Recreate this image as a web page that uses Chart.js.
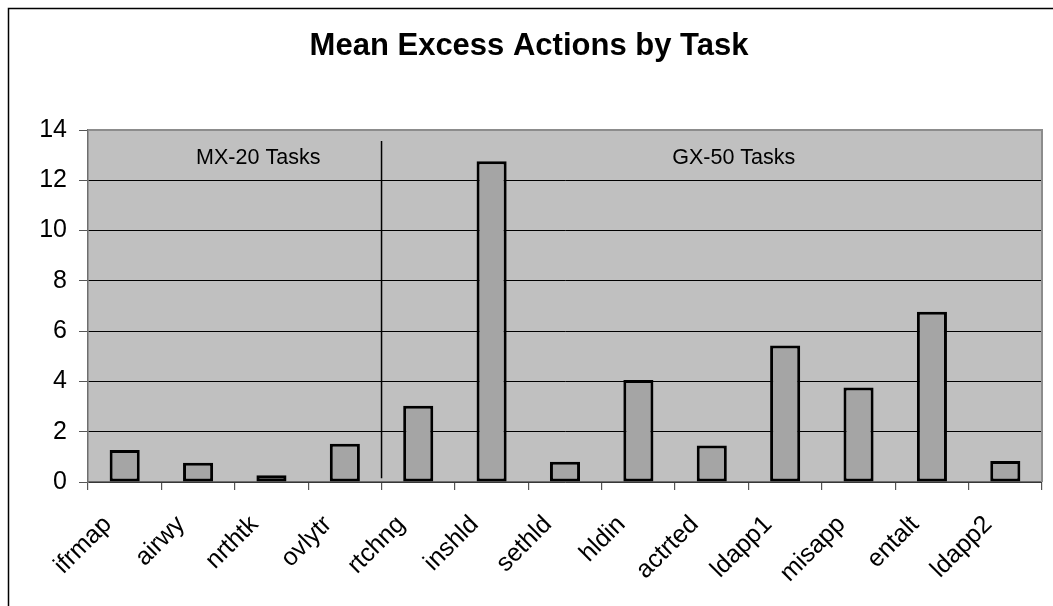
<!DOCTYPE html>
<html>
<head>
<meta charset="utf-8">
<script src="https://cdn.jsdelivr.net/npm/chart.js@4"></script>
<style>
  html, body { margin: 0; padding: 0; background: #ffffff; }
  #c { display: block; }
</style>
</head>
<body>
<canvas id="c" width="1053" height="606"></canvas>
<script>
const titleText = 'Mean Excess Actions by Task';
const categories = ['ifrmap','airwy','nrthtk','ovlytr','rtchng','inshld','sethld','hldin','actrted','ldapp1','misapp','entalt','ldapp2'];
const excessActions = [1.27, 0.77, 0.27, 1.52, 3.03, 12.76, 0.81, 4.06, 1.45, 5.43, 3.76, 6.77, 0.84];
const yTicks = [0, 2, 4, 6, 8, 10, 12, 14];
const groupLabels = ['MX-20 Tasks', 'GX-50 Tasks'];
const groupLabelIndex = [1.82, 8.3];
const groupLabelValue = 12.87;
const dividerIndex = 4;            // divider between ovlytr and rtchng
const dividerRange = [0.15, 13.56]; // vertical extent of the divider in data units

const FONT = '"Liberation Sans", Arial, Helvetica, sans-serif';

const chartDecor = {
  id: 'chartDecor',
  beforeDraw(chart) {
    const { ctx, chartArea: a } = chart;
    ctx.save();
    ctx.fillStyle = '#ffffff';
    ctx.fillRect(0, 0, chart.width, chart.height);
    ctx.fillStyle = '#c0c0c0';
    ctx.fillRect(a.left, a.top, a.right - a.left, a.bottom - a.top);
    ctx.restore();
  },
  afterDatasetsDraw(chart) {
    const { ctx, chartArea: a, scales } = chart;
    const x = scales.x, y = scales.y;
    ctx.save();
    // plot area border (top & right)
    ctx.strokeStyle = '#8c8c8c';
    ctx.lineWidth = 2;
    ctx.beginPath();
    ctx.moveTo(a.left, a.top);
    ctx.lineTo(a.right, a.top);
    ctx.lineTo(a.right, a.bottom);
    ctx.stroke();
    // divider
    const dx = (x.getPixelForValue(dividerIndex - 1) + x.getPixelForValue(dividerIndex)) / 2;
    ctx.strokeStyle = '#000000';
    ctx.lineWidth = 1.5;
    ctx.beginPath();
    ctx.moveTo(dx, y.getPixelForValue(dividerRange[1]));
    ctx.lineTo(dx, y.getPixelForValue(dividerRange[0]));
    ctx.stroke();
    // group labels
    ctx.fillStyle = '#000000';
    ctx.font = '21.5px ' + FONT;
    ctx.textAlign = 'center';
    ctx.textBaseline = 'middle';
    groupLabels.forEach((t, i) => {
      ctx.fillText(t, x.getPixelForValue(groupLabelIndex[i]), y.getPixelForValue(groupLabelValue));
    });
    ctx.restore();
  },
  afterDraw(chart) {
    const { ctx } = chart;
    ctx.save();
    ctx.strokeStyle = '#000000';
    ctx.lineWidth = 1.5;
    ctx.beginPath();
    ctx.moveTo(8.5, chart.height + 2);
    ctx.lineTo(8.5, 8.5);
    ctx.lineTo(chart.width + 2, 8.5);
    ctx.stroke();
    ctx.restore();
  }
};

new Chart(document.getElementById('c'), {
  type: 'bar',
  data: {
    labels: categories,
    datasets: [{
      label: 'Mean Excess Actions',
      data: excessActions,
      backgroundColor: '#a5a5a5',
      borderColor: '#000000',
      borderWidth: 3,
      borderSkipped: false,
      barPercentage: 0.41,
      categoryPercentage: 1.0
    }]
  },
  options: {
    responsive: false,
    animation: false,
    devicePixelRatio: 1,
    layout: { padding: { left: 16, right: 11, top: 0, bottom: 0 } },
    plugins: {
      legend: { display: false },
      tooltip: { enabled: false },
      title: {
        display: true,
        text: titleText,
        color: '#000000',
        font: { family: FONT, size: 31, weight: 'bold', lineHeight: 1.2 },
        padding: { top: 28, bottom: 64.8 }
      }
    },
    scales: {
      x: {
        offset: true,
        grid: { display: true, drawOnChartArea: false, drawTicks: true, tickLength: 8, offset: true, color: '#555555', lineWidth: 1.2 },
        border: { display: true, color: '#6e6e6e', width: 1.5 },
        ticks: {
          color: '#000000',
          font: { family: FONT, size: 25 },
          minRotation: 45,
          maxRotation: 45,
          autoSkip: false,
          padding: 20,
          labelOffset: -17
        },
        afterFit(scale) { scale.height = 124; }
      },
      y: {
        min: 0,
        max: 14,
        afterBuildTicks(scale) { scale.ticks = yTicks.map(v => ({ value: v })); },
        grid: { color: '#000000', lineWidth: 1, drawTicks: true, tickLength: 9, tickColor: '#555555' },
        border: { display: true, color: '#6e6e6e', width: 1.5 },
        ticks: {
          color: '#000000',
          font: { family: FONT, size: 25 },
          padding: 12
        },
        afterFit(scale) { scale.width = 72; }
      }
    }
  },
  plugins: [chartDecor]
});
</script>
</body>
</html>
